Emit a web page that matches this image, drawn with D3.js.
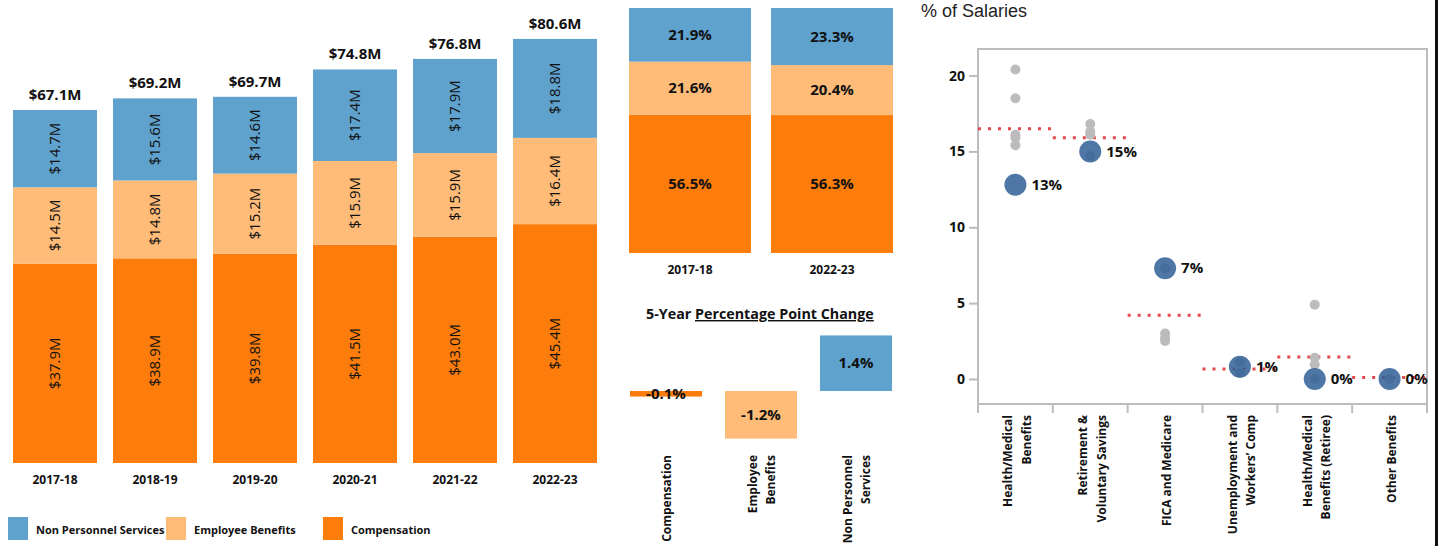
<!DOCTYPE html>
<html lang="en">
<head>
    <meta charset="utf-8">
    <title>Budget by category</title>
    <script type="text/javascript" src="https://d3js.org/d3.v7.min.js"></script>
    <style>
        body { margin: 0; background: #fff; }
        svg { display: block; font-family: "Open Sans", sans-serif; }
    </style>
</head>
<body>
    <script type="text/javascript">
        // spending by year, $M
        var years = ["2017-18", "2018-19", "2019-20", "2020-21", "2021-22", "2022-23"];
        var compensation = [37.9, 38.9, 39.8, 41.5, 43.0, 45.4];
        var benefits = [14.5, 14.8, 15.2, 15.9, 15.9, 16.4];
        var nonPersonnel = [14.7, 15.6, 14.6, 17.4, 17.9, 18.8];
        var totals = [67.1, 69.2, 69.7, 74.8, 76.8, 80.6];

        // share of total, %
        var shareYears = ["2017-18", "2022-23"];
        var compShare = [56.5, 56.3];
        var benShare = [21.6, 20.4];
        var npsShare = [21.9, 23.3];

        // 5-year change, percentage points
        var changeCats = ["Compensation", "Employee Benefits", "Non Personnel Services"];
        var changeLines = [["Compensation"], ["Employee", "Benefits"], ["Non Personnel", "Services"]];
        var changeVals = [-0.14, -1.2, 1.4];

        // benefits as % of salaries
        var benCats = ["Health/Medical Benefits", "Retirement & Voluntary Savings", "FICA and Medicare",
            "Unemployment and Workers' Comp", "Health/Medical Benefits (Retiree)", "Other Benefits"];
        var benLines = [["Health/Medical", "Benefits"], ["Retirement &", "Voluntary Savings"], ["FICA and Medicare"],
            ["Unemployment and", "Workers\u2019 Comp"], ["Health/Medical", "Benefits (Retiree)"], ["Other Benefits"]];
        var comparisonVals = [[20.4, 18.5, 16.1, 15.9, 15.4], [16.8, 16.3, 16.1, 14.7], [7.3, 3.0, 2.7, 2.5],
            [1.1, 0.4], [4.9, 1.4, 0.95, 0.0], [0.0]];
        var cityVals = [12.8, 15.0, 7.3, 0.8, 0.0, 0.0];
        var avgVals = [16.5, 15.9, 4.2, 0.65, 1.45, 0.1];
        var yTicks = [0, 5, 10, 15, 20];

        var seriesKeys = ["Compensation", "Employee Benefits", "Non Personnel Services"];
        var color = d3.scaleOrdinal()
            .domain(seriesKeys)
            .range(["#fc7d0b", "#ffbc79", "#5fa2ce"]);

        // plain hyphen for negatives, like the original
        function pct1(v) { return d3.format(".1f")(v).replace("\u2212", "-") + "%"; }

        var svg = d3.select("body")
            .append("svg")
            .attr("width", 1442)
            .attr("height", 546);

        // ---------- stacked bars by year ----------
        var rows = years.map(function (y, i) {
            return { year: y, "Compensation": compensation[i], "Employee Benefits": benefits[i],
                "Non Personnel Services": nonPersonnel[i], total: totals[i] };
        });

        var x1 = d3.scaleBand().domain(years).range([0, 600]).paddingInner(0.16).paddingOuter(0.08);
        var y1 = d3.scaleLinear().domain([0, 88]).range([463, 0]);

        var stack = d3.stack().keys(seriesKeys)(rows);

        var left = svg.append("g").attr("transform", "translate(5,0)");

        var layer = left.selectAll(".layer")
            .data(stack)
            .enter().append("g")
            .attr("class", "layer")
            .attr("fill", function (d) { return color(d.key); });

        layer.selectAll("rect")
            .data(function (d) { return d; })
            .enter().append("rect")
            .attr("x", function (d) { return x1(d.data.year); })
            .attr("y", function (d) { return y1(d[1]); })
            .attr("width", x1.bandwidth())
            .attr("height", function (d) { return y1(d[0]) - y1(d[1]); });

        layer.selectAll("text")
            .data(function (d) { return d; })
            .enter().append("text")
            .attr("transform", function (d) {
                var cx = x1(d.data.year) + x1.bandwidth() / 2;
                var cy = (y1(d[0]) + y1(d[1])) / 2;
                return "translate(" + cx + "," + cy + ") rotate(-90)";
            })
            .attr("dy", "0.35em")
            .attr("text-anchor", "middle")
            .attr("font-size", 15)
            .attr("fill", "#111")
            .text(function (d) { return "$" + (d[1] - d[0]).toFixed(1) + "M"; });

        left.selectAll(".total")
            .data(rows)
            .enter().append("text")
            .attr("class", "total")
            .attr("x", function (d) { return x1(d.year) + x1.bandwidth() / 2; })
            .attr("y", function (d) { return y1(d.Compensation + d["Employee Benefits"] + d["Non Personnel Services"]) - 10; })
            .attr("text-anchor", "middle")
            .attr("font-size", 15)
            .attr("font-weight", "bold")
            .attr("fill", "#111")
            .text(function (d) { return "$" + d.total.toFixed(1) + "M"; });

        left.selectAll(".year")
            .data(years)
            .enter().append("text")
            .attr("x", function (d) { return x1(d) + x1.bandwidth() / 2; })
            .attr("y", 484)
            .attr("text-anchor", "middle")
            .attr("font-size", 12)
            .attr("font-weight", "bold")
            .attr("fill", "#111")
            .text(function (d) { return d; });

        // legend
        var legendX = [8, 166, 323];
        var legendOrder = ["Non Personnel Services", "Employee Benefits", "Compensation"];
        var legend = svg.selectAll(".legend")
            .data(legendOrder)
            .enter().append("g")
            .attr("transform", function (d, i) { return "translate(" + legendX[i] + ",517)"; });
        legend.append("rect")
            .attr("width", 20)
            .attr("height", 23)
            .attr("fill", function (d) { return color(d); });
        legend.append("text")
            .attr("x", 28)
            .attr("y", 14)
            .attr("dy", "0.3em")
            .attr("font-size", 11)
            .attr("font-weight", "bold")
            .attr("fill", "#111")
            .text(function (d) { return d; });

        // ---------- 100% bars ----------
        var shareRows = shareYears.map(function (y, i) {
            return { year: y, "Compensation": compShare[i], "Employee Benefits": benShare[i], "Non Personnel Services": npsShare[i] };
        });
        var x2 = d3.scaleBand().domain(shareYears).range([629, 893]).paddingInner(0.141).paddingOuter(0);
        var y2 = d3.scaleLinear().domain([0, 100]).range([253, 8]);
        var shareStack = d3.stack().keys(seriesKeys)(shareRows);

        var shareLayer = svg.selectAll(".share")
            .data(shareStack)
            .enter().append("g")
            .attr("fill", function (d) { return color(d.key); });
        shareLayer.selectAll("rect")
            .data(function (d) { return d; })
            .enter().append("rect")
            .attr("x", function (d) { return x2(d.data.year); })
            .attr("y", function (d) { return y2(d[1]); })
            .attr("width", x2.bandwidth())
            .attr("height", function (d) { return y2(d[0]) - y2(d[1]); });
        shareLayer.selectAll("text")
            .data(function (d) { return d; })
            .enter().append("text")
            .attr("x", function (d) { return x2(d.data.year) + x2.bandwidth() / 2; })
            .attr("y", function (d) { return (y2(d[0]) + y2(d[1])) / 2; })
            .attr("dy", "0.35em")
            .attr("text-anchor", "middle")
            .attr("font-size", 15)
            .attr("font-weight", "bold")
            .attr("fill", "#111")
            .text(function (d) { return (d[1] - d[0]).toFixed(1) + "%"; });
        svg.selectAll(".shareYear")
            .data(shareYears)
            .enter().append("text")
            .attr("x", function (d) { return x2(d) + x2.bandwidth() / 2; })
            .attr("y", 274)
            .attr("text-anchor", "middle")
            .attr("font-size", 12)
            .attr("font-weight", "bold")
            .attr("fill", "#111")
            .text(function (d) { return d; });

        // ---------- 5-year change ----------
        var title = svg.append("text")
            .attr("x", 646)
            .attr("y", 319)
            .attr("font-size", 14.3)
            .attr("font-weight", "bold")
            .attr("fill", "#111");
        title.append("tspan").text("5-Year ");
        title.append("tspan").attr("text-decoration", "underline").text("Percentage Point Change");

        var x3 = d3.scaleBand().domain(changeCats).range([630, 892]).paddingInner(0.242).paddingOuter(0);
        var y3 = d3.scaleLinear().domain([-2, 2]).range([470.4, 311.6]);

        svg.selectAll(".chg")
            .data(changeCats)
            .enter().append("rect")
            .attr("x", function (d) { return x3(d); })
            .attr("y", function (d, i) { return y3(Math.max(0, changeVals[i])); })
            .attr("width", x3.bandwidth())
            .attr("height", function (d, i) { return Math.abs(y3(changeVals[i]) - y3(0)); })
            .attr("fill", function (d) { return color(d); });

        svg.selectAll(".chgLabel")
            .data(changeCats)
            .enter().append("text")
            .attr("x", function (d) { return x3(d) + x3.bandwidth() / 2; })
            .attr("y", function (d, i) { return (y3(changeVals[i]) + y3(0)) / 2; })
            .attr("dy", "0.35em")
            .attr("text-anchor", "middle")
            .attr("font-size", 15)
            .attr("font-weight", "bold")
            .attr("fill", "#111")
            .text(function (d, i) { return pct1(changeVals[i]); });

        var chgCat = svg.selectAll(".chgCat")
            .data(changeCats)
            .enter().append("g")
            .attr("transform", function (d) { return "translate(" + (x3(d) + x3.bandwidth() / 2) + ",455) rotate(-90)"; });
        chgCat.selectAll("text")
            .data(function (d, i) { return changeLines[i].map(function (t, j) { return { t: t, j: j, n: changeLines[i].length }; }); })
            .enter().append("text")
            .attr("y", function (d) { return (d.j - (d.n - 1) / 2) * 18 + 1; })
            .attr("dy", "0.35em")
            .attr("text-anchor", "end")
            .attr("font-size", 12)
            .attr("font-weight", "bold")
            .attr("fill", "#111")
            .text(function (d) { return d.t; });

        // ---------- % of salaries dot plot ----------
        svg.append("text")
            .attr("x", 921)
            .attr("y", 17)
            .attr("font-family", "\"Liberation Sans\", Arial, sans-serif")
            .attr("font-size", 18)
            .attr("fill", "#222")
            .text("% of Salaries");

        var plot = { left: 978, right: 1427, top: 49, bottom: 404 };
        var x4 = d3.scaleBand().domain(benCats).range([plot.left, plot.right]);
        var y4 = d3.scaleLinear().domain([-1.65, 21.75]).range([plot.bottom, plot.top]);

        svg.append("rect")
            .attr("x", plot.left)
            .attr("y", plot.top)
            .attr("width", plot.right - plot.left)
            .attr("height", plot.bottom - plot.top)
            .attr("fill", "none")
            .attr("stroke", "#bdbdbd")
            .attr("stroke-width", 2);

        var yAxis = svg.append("g")
            .attr("transform", "translate(" + plot.left + ",0)")
            .call(d3.axisLeft(y4).tickValues(yTicks).tickSize(9).tickPadding(4));
        yAxis.select(".domain").remove();
        yAxis.selectAll("line").attr("stroke", "#bdbdbd").attr("stroke-width", 2);
        yAxis.selectAll("text")
            .attr("font-family", "\"Open Sans\", sans-serif")
            .attr("font-size", 14)
            .attr("font-weight", "bold")
            .attr("fill", "#111");

        var bounds = benCats.map(function (d) { return x4(d); }).concat([plot.right]);
        svg.selectAll(".xtick")
            .data(bounds)
            .enter().append("line")
            .attr("x1", function (d) { return d; })
            .attr("x2", function (d) { return d; })
            .attr("y1", plot.bottom)
            .attr("y2", plot.bottom + 9)
            .attr("stroke", "#bdbdbd")
            .attr("stroke-width", 2);

        // averages
        svg.selectAll(".avg")
            .data(benCats)
            .enter().append("line")
            .attr("x1", function (d) { return x4(d); })
            .attr("x2", function (d) { return x4(d) + x4.bandwidth(); })
            .attr("y1", function (d, i) { return y4(avgVals[i]); })
            .attr("y2", function (d, i) { return y4(avgVals[i]); })
            .attr("stroke", "#e5484d")
            .attr("stroke-width", 3)
            .attr("stroke-dasharray", "3 7");

        // comparison dots
        var grayPts = [];
        benCats.forEach(function (c, i) {
            comparisonVals[i].forEach(function (v) { grayPts.push({ cat: c, v: v }); });
        });
        svg.selectAll(".gray")
            .data(grayPts)
            .enter().append("circle")
            .attr("cx", function (d) { return x4(d.cat) + x4.bandwidth() / 2; })
            .attr("cy", function (d) { return y4(d.v); })
            .attr("r", 5)
            .attr("fill", "#bcbcbc");

        svg.selectAll(".city")
            .data(benCats)
            .enter().append("circle")
            .attr("cx", function (d) { return x4(d) + x4.bandwidth() / 2; })
            .attr("cy", function (d, i) { return y4(cityVals[i]); })
            .attr("r", 11)
            .attr("fill", "#2f5f96")
            .attr("fill-opacity", 0.85);

        svg.selectAll(".cityLabel")
            .data(benCats)
            .enter().append("text")
            .attr("x", function (d) { return x4(d) + x4.bandwidth() / 2 + 16; })
            .attr("y", function (d, i) { return y4(cityVals[i]); })
            .attr("dy", "0.35em")
            .attr("font-size", 15)
            .attr("font-weight", "bold")
            .attr("fill", "#111")
            .text(function (d, i) { return d3.format(".0f")(cityVals[i]) + "%"; });

        var benCat = svg.selectAll(".benCat")
            .data(benCats)
            .enter().append("g")
            .attr("transform", function (d) { return "translate(" + (x4(d) + x4.bandwidth() / 2) + ",415) rotate(-90)"; });
        benCat.selectAll("text")
            .data(function (d, i) { return benLines[i].map(function (t, j) { return { t: t, j: j, n: benLines[i].length }; }); })
            .enter().append("text")
            .attr("y", function (d) { return (d.j - (d.n - 1) / 2) * 18.5 + 2; })
            .attr("dy", "0.35em")
            .attr("text-anchor", "end")
            .attr("font-size", 12)
            .attr("font-weight", "bold")
            .attr("fill", "#111")
            .text(function (d) { return d.t; });

        // dashboard edge
        svg.append("line")
            .attr("x1", 1436.5).attr("x2", 1436.5)
            .attr("y1", 0).attr("y2", 546)
            .attr("stroke", "#111")
            .attr("stroke-width", 3);
    </script>
</body>
</html>
